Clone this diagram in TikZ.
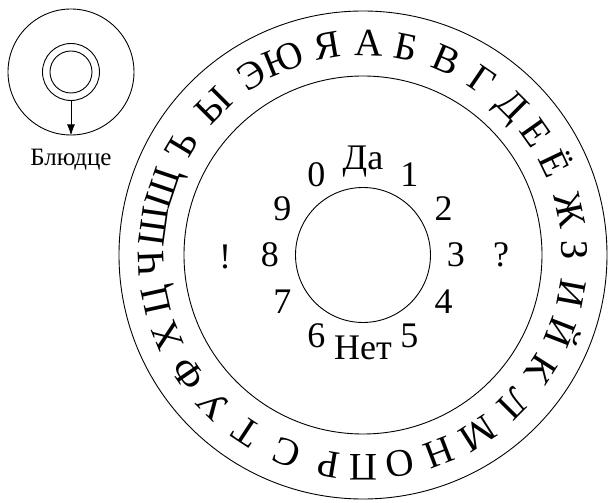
\documentclass[tikz,border=0pt]{standalone}
\usepackage{fontspec}
\setmainfont{Liberation Serif}
\usetikzlibrary{arrows.meta,positioning}

\begin{document}
\begin{tikzpicture}[x=1pt, y=1pt,
        disc/.style={draw, circle, line width=0.9pt, inner sep=0pt},
        letter/.style={font=\fontsize{39}{39}\selectfont, anchor=base, inner sep=0pt},
        num/.style={font=\fontsize{36}{36}\selectfont, inner sep=0pt}
    ]
    \useasboundingbox (-363,-248) rectangle (245,255);
    \node[disc, minimum size=488pt] (outer) at (0,0) {};
    \node[disc, minimum size=358pt] (mid) at (0,0) {};
    \node[disc, minimum size=135pt] (inner) at (0,0) {};

    \foreach \ch/\ang [count=\i] in {А/88.5, Б/78.4, В/66.9, Г/55.8, Д/45.1, Е/35.2,
            Ё/25.5, Ж/12.2, З/1.4, И/-10.4, Й/-21.4, К/-32.6, Л/-44.7, М/-57.3,
            Н/-69, О/-80, П/-90, Р/-99.4, С/-111, Т/-123.4, У/-135, Ф/-145.8,
            Х/-157.5, Ц/-167.6, Ч/-177.8, Ш/-187.8, Щ/-198.6, Ъ/-211, Ы/-225,
            Э/-238.3, Ю/-247.8, Я/-260.4}
        \node[letter, rotate=\ang-90] (l\i) at (\ang:199) {\ch};

    \foreach \t [count=\i from 0] in {3,2,1,Да,0,9,8,7,6,Нет,5,4}
        \node[num] (d\i) at (\i*30:93) {\t};

    \node[num] (excl) at (-138,-2) {!};
    \node[num] (quest) at (138,0) {?};

    \node[disc, minimum size=126pt] (saucer) at (-292,183) {};
    \node[disc, minimum size=57pt] (ring) at (saucer.center) {};
    \node[disc, minimum size=42pt] (ringin) at (saucer.center) {};
    \draw[line width=0.9pt, -{Latex[length=11pt,width=8pt]}] (ring.south) -- (saucer.south);
    \node[below=13pt of saucer, font=\fontsize{25}{25}\selectfont, inner sep=0pt] (lbl) {Блюдце};
\end{tikzpicture}
\end{document}
